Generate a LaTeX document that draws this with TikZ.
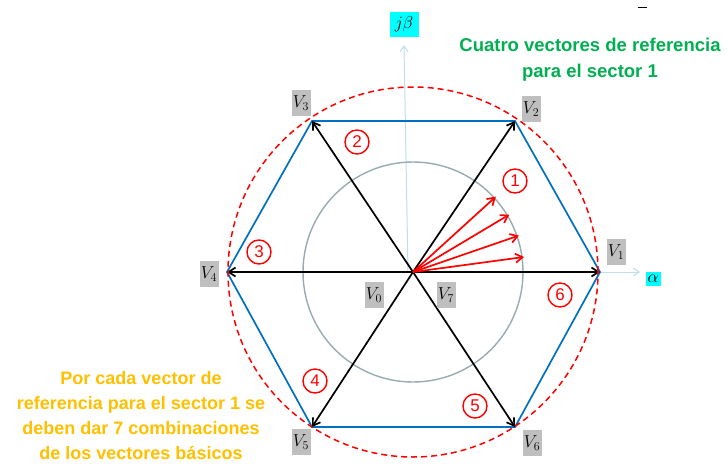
\documentclass[tikz,border=0pt]{standalone}
\usepackage{fontspec}
\newfontfamily\sans{Liberation Sans}
\usepackage{xcolor}
\usepackage{tikz}
\usetikzlibrary{arrows.meta,calc,positioning}
\definecolor{verde}{RGB}{0,176,80}
\definecolor{naranja}{RGB}{255,192,0}
\definecolor{azulhex}{RGB}{0,112,192}
\definecolor{grisc}{RGB}{150,172,176}
\definecolor{ejec}{RGB}{190,222,232}
\definecolor{cianc}{RGB}{0,255,255}
\tikzset{
  hexa/.style={draw=azulhex,line width=1.7pt,line join=miter},
  vec/.style={-{Straight Barb[length=7pt,width=9pt]},line width=1.7pt},
  vref/.style={vec,red},
  ejes/.style={-{Straight Barb[length=6pt,width=8pt]},ejec,line width=1pt},
  etiq/.style={fill=gray!50,inner sep=0pt,minimum width=19pt,minimum height=26pt,font=\fontsize{18}{18}\selectfont},
  sector/.style={circle,draw=red,line width=1.4pt,text=red,inner sep=0pt,minimum size=24pt,font=\sans\fontsize{17}{17}\selectfont},
  cian/.style={fill=cianc,inner sep=0pt,font=\fontsize{18}{18}\selectfont}
}

\begin{document}
\begin{tikzpicture}[x=1pt,y=-1pt]
\useasboundingbox (0,0) rectangle (728,466);
% vertices del hexagono
\coordinate (O) at (413,272);
\coordinate (V1) at (600,272);
\coordinate (V2) at (515,121);
\coordinate (V3) at (312,121);
\coordinate (V4) at (227,272);
\coordinate (V5) at (312,427);
\coordinate (V6) at (515,427);
% ejes
\coordinate (Ob) at (408,272);
\coordinate (alfa) at (640,272);
\coordinate (beta) at (404,45);
\draw[ejes] (O) -- (alfa);
\draw[ejes] (Ob) -- (beta);
\node[cian,minimum width=29pt,minimum height=25pt] (jb) at (404,24) {$j\beta$};
\node[cian,minimum width=15pt,minimum height=14pt] (al) at (653,279) {$\alpha$};
\draw[grisc,line width=1.4pt] (O) circle (110pt);
\draw[hexa] (V1)--(V2)--(V3)--(V4)--(V5)--(V6)--cycle;
\foreach \i in {1,...,6} \draw[vec] (O) -- (V\i);
% vectores de referencia
\foreach \a [count=\i] in {7.7,19,30.8,42.3}{
  \path (O) ++(-\a:112) coordinate (r\i);
  \draw[vref] (O) -- (r\i);
}
\draw[red,line width=1.5pt,dash pattern=on 6pt off 4pt] (O) circle (185pt);
% etiquetas
\node[etiq] (eV1) at (616,252) {$V_1$};
\node[etiq] (eV2) at (531,109) {$V_2$};
\node[etiq] (eV3) at (301,103) {$V_3$};
\node[etiq] (eV4) at (209,274) {$V_4$};
\node[etiq] (eV5) at (301,442) {$V_5$};
\node[etiq] (eV6) at (532,443) {$V_6$};
\node[etiq] (eV0) at (374,295) {$V_0$};
\node[etiq] (eV7) at (446,295) {$V_7$};
% sectores
\node[sector] (s1) at (515,181) {1};
\node[sector] (s2) at (357,142) {2};
\node[sector] (s3) at (259,252) {3};
\node[sector] (s4) at (315,381) {4};
\node[sector] (s5) at (475,406) {5};
\node[sector] (s6) at (560,295) {6};
% textos
\node[text=verde,font=\sans\bfseries\fontsize{18.5}{26}\selectfont,align=center] (txtv) at (590,60)
  {Cuatro vectores de referencia\\para el sector 1};
\node[text=naranja,font=\sans\bfseries\fontsize{18}{25}\selectfont,align=center] (txtn) at (141,416)
  {Por cada vector de\\referencia para el sector 1 se\\deben dar 7 combinaciones\\de los vectores básicos};
\draw (638,7) -- (647,7);
\end{tikzpicture}
\end{document}
